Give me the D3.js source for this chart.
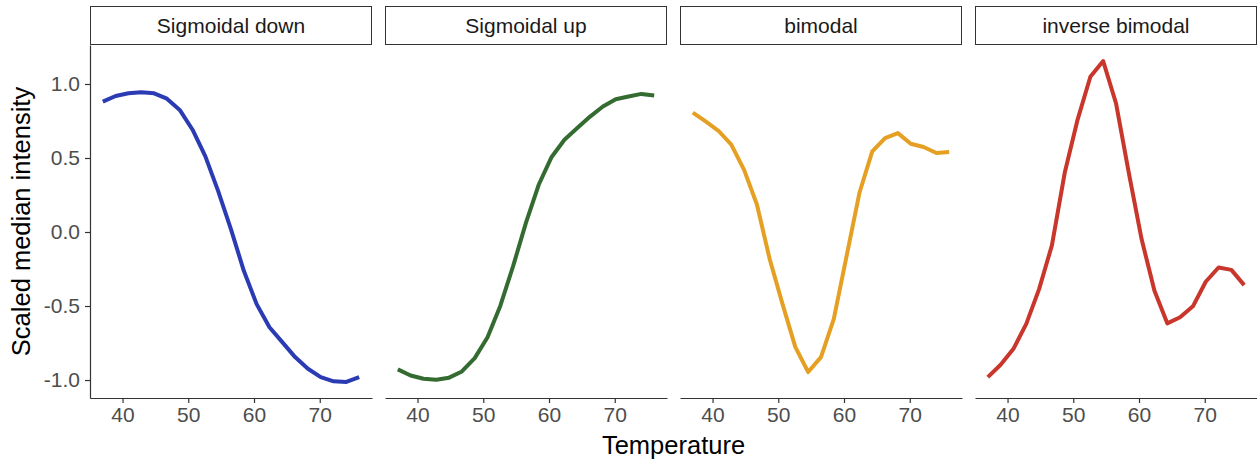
<!DOCTYPE html>
<html>
<head>
<meta charset="utf-8">
<script src="https://cdn.jsdelivr.net/npm/d3@7"></script>
<style>
  body { margin: 0; background: #fff; }
  svg { display: block; font-family: "Liberation Sans", Arial, sans-serif; }
</style>
</head>
<body>
<svg id="s" width="1257" height="463"></svg>
<script>
// temperatures (x) shared by all profiles
var temps = [37, 38.95, 40.9, 42.85, 44.8, 46.75, 48.7, 50.65, 52.6, 54.55, 56.5,
             58.45, 60.4, 62.35, 64.3, 66.25, 68.2, 70.15, 72.1, 74.05, 76];

var panels = ["Sigmoidal down", "Sigmoidal up", "bimodal", "inverse bimodal"];
var colors = ["#2b3bb3", "#346b31", "#e5a024", "#c9362b"];

var sigDown = [0.881, 0.919, 0.937, 0.944, 0.937, 0.901, 0.825, 0.691, 0.511, 0.276, 0.018,
               -0.262, -0.487, -0.643, -0.744, -0.845, -0.924, -0.980, -1.009, -1.013, -0.980];
var sigUp = [-0.928, -0.969, -0.991, -0.998, -0.984, -0.942, -0.852, -0.711, -0.498, -0.229, 0.063,
             0.321, 0.507, 0.623, 0.702, 0.780, 0.848, 0.897, 0.915, 0.933, 0.922];
var bimodal = [0.807, 0.747, 0.684, 0.590, 0.420, 0.186, -0.184, -0.487, -0.778, -0.946, -0.845,
               -0.587, -0.161, 0.265, 0.545, 0.635, 0.668, 0.596, 0.574, 0.534, 0.540];
var invBimodal = [-0.980, -0.897, -0.789, -0.621, -0.386, -0.090, 0.400, 0.758, 1.049, 1.155, 0.870,
                  0.400, -0.049, -0.397, -0.617, -0.576, -0.502, -0.336, -0.240, -0.256, -0.359];

var series = [sigDown, sigUp, bimodal, invBimodal];
var xTicks = [40, 50, 60, 70];
var yTicks = [-1.0, -0.5, 0.0, 0.5, 1.0];
var yTickLabels = ["-1.0", "-0.5", "0.0", "0.5", "1.0"];

var svg = d3.select("#s");

var plotLeft = 90, plotTop = 45, plotBottom = 398, pw = 282, gap = 13;

// ggplot style 5% expansion
var xmin = d3.min(temps), xmax = d3.max(temps);
var allY = d3.merge(series);
var ymin = d3.min(allY), ymax = d3.max(allY);
var xpad = (xmax - xmin) * 0.05, ypad = (ymax - ymin) * 0.05;

var y = d3.scaleLinear().domain([ymin - ypad, ymax + ypad]).range([plotBottom, plotTop]);

panels.forEach(function(name, i) {
    var x0 = plotLeft + i * (pw + gap);
    var x = d3.scaleLinear().domain([xmin - xpad, xmax + xpad]).range([x0, x0 + pw]);
    var g = svg.append("g");

    // strip
    g.append("rect")
        .attr("x", x0 + 0.5).attr("y", 6.5)
        .attr("width", pw - 1).attr("height", 38)
        .attr("fill", "#fff").attr("stroke", "#333").attr("stroke-width", 1);
    g.append("text")
        .attr("x", x0 + pw / 2).attr("y", 33)
        .attr("text-anchor", "middle")
        .attr("font-size", 21).attr("fill", "#1a1a1a")
        .text(name);

    // x axis
    var xa = g.append("g").attr("transform", "translate(0," + plotBottom + ")")
        .call(d3.axisBottom(x).tickValues(xTicks).tickSize(5).tickSizeOuter(0).tickPadding(4));
    xa.select(".domain").attr("stroke", "#333").attr("stroke-width", 1.2);
    xa.selectAll(".tick line").attr("stroke", "#333").attr("stroke-width", 1.2);
    xa.selectAll(".tick text").attr("font-size", 21).attr("fill", "#4d4d4d")
        .attr("font-family", "Liberation Sans, Arial, sans-serif");

    if (i === 0) {
        var ya = g.append("g").attr("transform", "translate(" + x0 + ",0)")
            .call(d3.axisLeft(y).tickValues(yTicks)
                .tickFormat(function(d, k) { return yTickLabels[k]; })
                .tickSize(5).tickSizeOuter(0).tickPadding(5));
        ya.select(".domain").attr("stroke", "#333").attr("stroke-width", 1.2);
        ya.selectAll(".tick line").attr("stroke", "#333").attr("stroke-width", 1.2);
        ya.selectAll(".tick text").attr("font-size", 21).attr("fill", "#4d4d4d")
            .attr("font-family", "Liberation Sans, Arial, sans-serif");
    }

    var line = d3.line()
        .x(function(d, j) { return x(temps[j]); })
        .y(function(d) { return y(d); });

    g.append("path")
        .datum(series[i])
        .attr("d", line)
        .attr("fill", "none")
        .attr("stroke", colors[i])
        .attr("stroke-width", 4)
        .attr("stroke-linejoin", "round");
});

// axis titles
svg.append("text")
    .attr("x", plotLeft + (4 * pw + 3 * gap) / 2).attr("y", 454)
    .attr("text-anchor", "middle").attr("font-size", 25.5).attr("fill", "#000")
    .text("Temperature");

svg.append("text")
    .attr("transform", "translate(30," + ((plotTop + plotBottom) / 2) + ") rotate(-90)")
    .attr("text-anchor", "middle").attr("font-size", 25.5).attr("fill", "#000")
    .text("Scaled median intensity");
</script>
</body>
</html>
